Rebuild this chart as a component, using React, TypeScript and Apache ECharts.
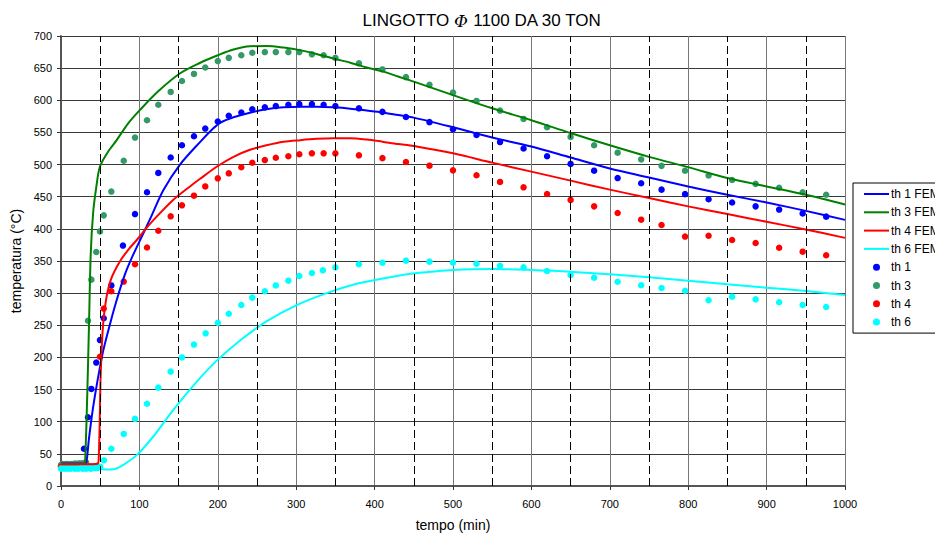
import React, { useEffect, useRef } from 'react';
import * as echarts from 'echarts';

const FONT = '"Liberation Sans", Arial, Helvetica, sans-serif';

// vertical dashed reference lines (min)
const dashedTimes = [50, 150, 250, 350, 450, 550, 650, 750, 850, 950];

// FEM simulation curves [tempo (min), temperatura (°C)]
const th1Fem: [number, number][] = [
  [0, 35], [15, 35], [30, 35], [32.3, 36], [35.7, 74], [40.8, 121], [46.3, 162], [53.6, 209],
  [62.1, 250], [70.5, 287], [81.2, 328], [91.8, 359], [104.6, 392], [115, 419], [130.5, 460],
  [151.8, 500], [177.3, 535], [194, 556], [203, 565], [220, 573.5], [241, 580.7], [262, 586],
  [284, 589], [305, 590], [326, 590], [347, 589], [369, 587], [390, 584], [410, 581], [430, 577],
  [450, 573], [500, 558], [550, 542], [600, 528], [650, 511], [700, 494], [750, 480], [800, 466],
  [850, 453], [900, 441], [950, 428], [1000, 414],
];
const th3Fem: [number, number][] = [
  [0, 34], [15, 34], [30, 35], [31, 43], [33.6, 147], [35.7, 250], [37.9, 360], [41, 425],
  [45, 465], [49.7, 497], [60, 520], [71, 538], [85, 563], [100.8, 585], [124, 614], [152, 642],
  [177, 658], [200, 670], [220, 679], [241, 684], [262, 684.4], [284, 682], [305, 678],
  [326, 672], [347, 665], [369, 658.5], [390, 651], [410, 645], [430, 637], [450, 629],
  [500, 608], [550, 587.5], [600, 569], [650, 549], [700, 530], [750, 512], [800, 496],
  [850, 479], [900, 466], [950, 453], [1000, 438],
];
const th4Fem: [number, number][] = [
  [0, 34], [20, 34], [40, 34], [47, 35], [48, 40], [49.3, 95], [50.6, 173], [53.6, 250],
  [57.8, 292], [64.2, 323], [74.9, 349], [85.5, 367], [98.2, 385], [108.8, 401], [122, 419],
  [143, 445], [164.5, 466], [177, 477.5], [199, 497], [220, 512], [241, 523], [262, 530],
  [284, 535.5], [305, 538], [326, 540], [347, 541], [369, 541], [390, 539], [410, 535.6],
  [430, 532], [450, 529], [500, 517.5], [550, 503], [600, 489], [650, 475], [700, 461],
  [750, 448], [800, 435], [850, 423], [900, 411], [950, 399], [1000, 386],
];
const th6Fem: [number, number][] = [
  [0, 27.5], [30, 27.5], [50, 26.5], [60, 25.5], [67, 26], [79.5, 33], [96.5, 48], [117.7, 77],
  [143, 118], [173, 162], [198.6, 195], [228, 226], [262, 256], [300, 281], [339, 300],
  [377, 314.5], [407, 322], [432, 327.5], [449, 330.5], [500, 336], [550, 337.6], [600, 336],
  [650, 333.4], [700, 329.3], [750, 324.6], [800, 319.4], [850, 313.8], [900, 308.5],
  [950, 303.3], [1000, 297],
];

// measured thermocouple values [tempo (min), temperatura (°C)]
const th1Meas: [number, number][] = [
  [0, 30], [2, 30], [4, 31], [6, 30], [8, 30], [10, 31], [12, 30], [14, 30], [16, 31], [18, 30],
  [20, 31], [22, 30], [24, 31], [26, 32],
  [29.3, 58], [34.4, 107], [38.7, 151], [45, 192], [49.7, 227], [54.5, 261], [64.2, 312],
  [79, 374], [94.4, 423], [109.7, 457], [124.1, 487], [139.9, 511], [154.3, 530], [169.6, 544],
  [184, 556], [200, 567], [214, 576], [230, 581], [244, 586], [260, 589], [274, 591], [290, 593],
  [304, 594], [320, 594], [335, 593], [350, 591], [380, 587.5], [410, 582], [440, 574],
  [470, 566], [500, 555], [530, 546], [560, 535], [590, 525], [620, 513], [650, 501],
  [680, 490.5], [710, 479], [740, 471], [766, 461], [796, 454], [826, 446], [856, 441],
  [886, 435], [916, 430], [946, 424], [976, 419],
];
const th3Meas: [number, number][] = [
  [0, 33], [2, 34], [4, 33], [6, 34], [8, 34], [10, 33], [12, 34], [14, 34], [16, 34], [18, 35],
  [20, 34], [22, 35], [24, 35], [26, 35], [28, 35], [30, 36], [32, 37],
  [34.4, 257], [38.7, 321], [45, 364], [49.7, 396], [54.5, 421], [64.2, 458], [80, 506],
  [94.4, 542], [109.7, 569], [124.1, 593], [139.9, 613], [154.3, 630], [169.6, 641], [184, 651],
  [200, 661], [214, 666], [230, 670], [244, 674], [260, 675], [274, 675], [290, 675], [304, 675],
  [320, 671.5], [335, 670], [350, 666], [380, 657.5], [410, 648], [440, 636], [470, 624],
  [500, 612], [530, 599], [560, 584], [590, 571], [620, 558], [650, 543], [680, 530],
  [710, 518.5], [740, 508], [766, 498], [796, 490.5], [826, 483], [856, 476], [886, 470],
  [916, 464], [946, 457], [976, 453],
];
const th4Meas: [number, number][] = [
  [0, 30], [2, 30], [4, 30], [6, 29], [8, 30], [10, 30], [12, 30], [14, 29], [16, 30], [18, 30],
  [20, 30], [22, 30], [24, 29], [26, 30], [28, 30], [30, 30], [32, 30], [34, 30], [36, 30],
  [38, 30], [40, 30], [42, 30], [44, 30], [46, 31],
  [49.7, 201], [54.5, 276], [64.2, 303], [80, 318], [94.4, 345], [109.7, 371], [124.1, 397],
  [139.9, 419.5], [154.3, 436.6], [169.6, 451.6], [184, 466], [200, 478.6], [214, 486.4],
  [230, 495.8], [244, 502.9], [260, 507], [274, 510.7], [290, 513], [304, 516], [320, 517.5],
  [335, 517.5], [350, 517.5], [380, 514.4], [410, 510], [440, 504], [470, 498.3], [500, 491],
  [530, 483.3], [560, 473], [590, 464.6], [620, 454.2], [650, 445], [680, 435], [710, 424.7],
  [740, 414.3], [766, 406], [796, 388], [826, 389.3], [856, 382.7], [886, 378], [916, 370.7],
  [946, 364.5], [976, 359],
];
const th6Meas: [number, number][] = [
  [0, 27], [2, 28], [4, 27], [6, 28], [8, 27], [10, 28], [12, 27], [14, 28], [16, 28], [18, 27],
  [20, 28], [22, 27], [24, 28], [26, 28], [28, 27], [30, 28], [32, 27], [34, 28], [36, 28],
  [38, 27], [40, 28], [42, 28], [44, 28], [46, 28], [48, 29], [50, 30],
  [54.8, 40], [64.2, 58], [80, 81], [94.4, 104.5], [109.7, 128], [124.1, 153], [139.9, 178],
  [154.3, 200], [169.6, 220], [184.5, 237.5], [200, 254], [214, 268], [230, 281.6], [244, 293],
  [260, 303], [274, 312], [290, 319.4], [304, 326.7], [320, 331.3], [334, 335.5], [350, 340],
  [380, 345], [410, 347.4], [440, 350.5], [470, 349], [500, 347.4], [530, 345.8], [560, 342.7],
  [590, 340.2], [620, 334.4], [650, 328.2], [680, 324], [710, 317.8], [740, 312.2], [766, 308],
  [796, 303.8], [826, 289], [856, 294.5], [886, 290.4], [916, 285.8], [946, 281.6], [976, 278.4],
];

const lineNames = ['th 1 FEM', 'th 3 FEM', 'th 4 FEM', 'th 6 FEM'];
const dotNames = ['th 1', 'th 3', 'th 4', 'th 6'];
const lineColors = ['#0000FF', '#008000', '#FF0000', '#00FFFF'];
const dotColors = ['#0000FF', '#339966', '#FF0000', '#00FFFF'];

const DOT_ICON = 'path://M0 0M25 12M9 6a3.5 3.5 0 1 0 7 0a3.5 3.5 0 1 0 -7 0z';
const LINE_ICON = 'path://M0 0M25 12M0 5h25v2h-25z';

export default function App() {
  const ref = useRef<HTMLDivElement>(null);
  useEffect(() => {
    document.body.style.margin = '0';
    document.body.style.overflow = 'hidden';
    if (!ref.current) return;
    const chart = echarts.init(ref.current, undefined, { renderer: 'svg' });
    const lineData = [th1Fem, th3Fem, th4Fem, th6Fem];
    const dotData = [th1Meas, th3Meas, th4Meas, th6Meas];
    const series: any[] = [
      {
        name: 'grid-dashes',
        type: 'line',
        data: [],
        silent: true,
        markLine: {
          silent: true,
          symbol: 'none',
          label: { show: false },
          lineStyle: { color: '#000', type: [8, 4], width: 1 },
          emphasis: { disabled: true },
          data: dashedTimes.map((t) => ({ xAxis: t })),
        },
      },
    ];
    lineNames.forEach((n, i) => {
      series.push({
        name: n,
        type: 'line',
        data: lineData[i],
        symbol: 'none',
        smooth: 0.3,
        lineStyle: { color: lineColors[i], width: 2 },
        itemStyle: { color: lineColors[i] },
        silent: true,
      });
    });
    dotNames.forEach((n, i) => {
      series.push({
        name: n,
        type: 'scatter',
        data: dotData[i],
        symbol: 'circle',
        symbolSize: 6.5,
        itemStyle: { color: dotColors[i], opacity: 1 },
        silent: true,
      });
    });
    chart.setOption({
      animation: false,
      backgroundColor: '#fff',
      textStyle: { fontFamily: FONT },
      title: {
        text: '{n|LINGOTTO }{p|Φ}{n| 1100 DA 30 TON}',
        left: 477,
        top: 7,
        textAlign: 'center',
        textStyle: {
          fontWeight: 'normal',
          rich: {
            n: { fontSize: 17, fontFamily: FONT, fontWeight: 'normal', color: '#000' },
            p: { fontSize: 17, fontFamily: '"DejaVu Serif", serif', fontStyle: 'italic', fontWeight: 'normal', color: '#000' },
          },
        },
      },
      grid: { left: 61, right: 90, top: 36, bottom: 53, containLabel: false },
      legend: {
        orient: 'vertical',
        left: 853,
        top: 183,
        backgroundColor: '#fff',
        borderColor: '#000',
        borderWidth: 1,
        borderRadius: 0,
        padding: [5, 0, 5, 11],
        itemWidth: 25,
        itemHeight: 12,
        itemGap: 6.3,
        textStyle: { fontSize: 12, color: '#000', fontFamily: FONT, padding: [0, 0, 0, -3] },
        data: [
          ...lineNames.map((n) => ({ name: n, icon: LINE_ICON })),
          ...dotNames.map((n) => ({ name: n, icon: DOT_ICON })),
        ],
      },
      xAxis: {
        type: 'value',
        min: 0,
        max: 1000,
        interval: 100,
        name: 'tempo (min)',
        nameLocation: 'middle',
        nameGap: 32,
        nameTextStyle: { fontSize: 14, color: '#000', fontFamily: FONT },
        axisLine: { show: true, lineStyle: { color: '#555', width: 2 } },
        axisTick: { show: true, length: 4, lineStyle: { color: '#333' } },
        axisLabel: { fontSize: 11, color: '#000', margin: 12, fontFamily: FONT, formatter: (v: number) => String(v) },
        splitLine: { show: true, lineStyle: { color: '#777', width: 1 } },
      },
      yAxis: {
        type: 'value',
        min: 0,
        max: 700,
        interval: 50,
        name: 'temperatura (°C)',
        nameLocation: 'middle',
        nameGap: 36,
        nameTextStyle: { fontSize: 14, color: '#000', fontFamily: FONT },
        axisLine: { show: true, lineStyle: { color: '#555', width: 2 } },
        axisTick: { show: true, length: 4, lineStyle: { color: '#333' } },
        axisLabel: { fontSize: 11, color: '#000', margin: 9, fontFamily: FONT, formatter: (v: number) => String(v) },
        splitLine: { show: true, lineStyle: { color: '#3a3a3a', width: 1 } },
      },
      series,
    });
    return () => chart.dispose();
  }, []);
  return <div ref={ref} style={{ width: 935, height: 539 }} />;
}
